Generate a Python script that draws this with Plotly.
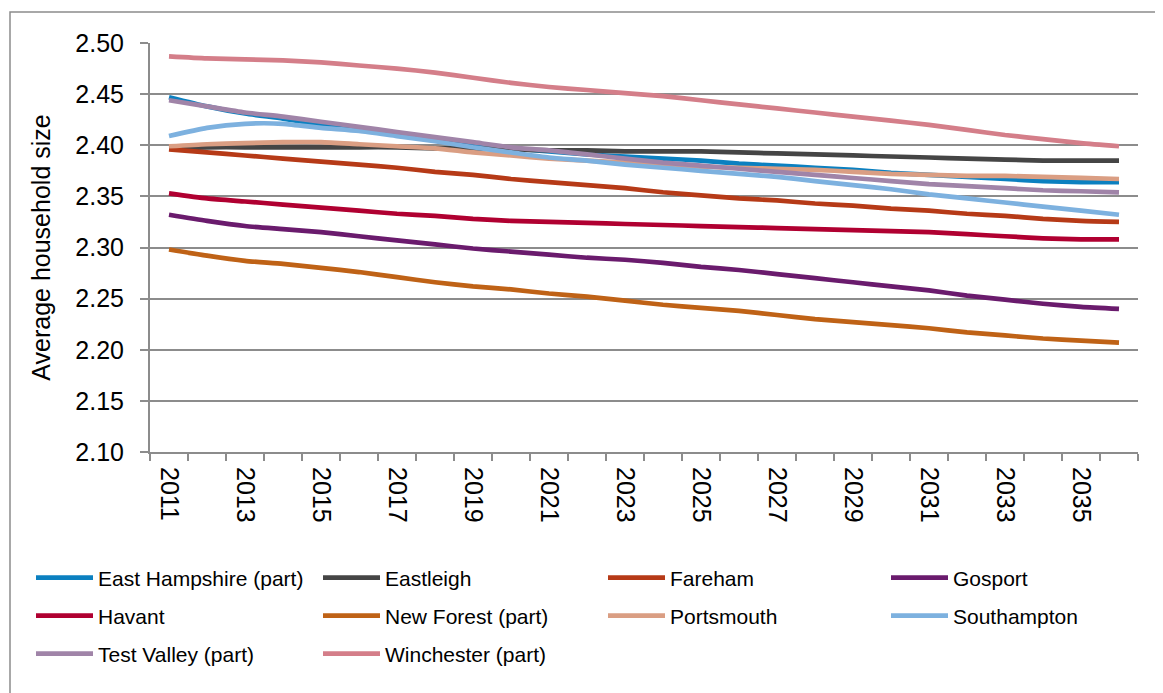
import plotly.graph_objects as go

years = list(range(2011, 2037))

east_hampshire = [2.447, 2.438, 2.431, 2.426, 2.420, 2.415, 2.410, 2.405, 2.401, 2.397, 2.394, 2.391, 2.389,
                  2.387, 2.385, 2.382, 2.380, 2.378, 2.376, 2.373, 2.371, 2.369, 2.367, 2.365, 2.364, 2.364]
eastleigh = [2.397, 2.398, 2.398, 2.398, 2.398, 2.398, 2.398, 2.397, 2.397, 2.396, 2.395, 2.395, 2.394,
             2.394, 2.394, 2.393, 2.392, 2.391, 2.390, 2.389, 2.388, 2.387, 2.386, 2.385, 2.385, 2.385]
fareham = [2.396, 2.393, 2.390, 2.387, 2.384, 2.381, 2.378, 2.374, 2.371, 2.367, 2.364, 2.361, 2.358,
           2.354, 2.351, 2.348, 2.346, 2.343, 2.341, 2.338, 2.336, 2.333, 2.331, 2.328, 2.326, 2.325]
gosport = [2.332, 2.326, 2.321, 2.318, 2.315, 2.311, 2.307, 2.303, 2.299, 2.296, 2.293, 2.290, 2.288,
           2.285, 2.281, 2.278, 2.274, 2.270, 2.266, 2.262, 2.258, 2.253, 2.249, 2.245, 2.242, 2.240]
havant = [2.353, 2.348, 2.345, 2.342, 2.339, 2.336, 2.333, 2.331, 2.328, 2.326, 2.325, 2.324, 2.323,
          2.322, 2.321, 2.320, 2.319, 2.318, 2.317, 2.316, 2.315, 2.313, 2.311, 2.309, 2.308, 2.308]
new_forest = [2.298, 2.292, 2.287, 2.284, 2.280, 2.276, 2.271, 2.266, 2.262, 2.259, 2.255, 2.252, 2.248,
              2.244, 2.241, 2.238, 2.234, 2.230, 2.227, 2.224, 2.221, 2.217, 2.214, 2.211, 2.209, 2.207]
portsmouth = [2.399, 2.401, 2.402, 2.403, 2.403, 2.401, 2.399, 2.397, 2.393, 2.390, 2.387, 2.385, 2.383,
              2.381, 2.379, 2.378, 2.377, 2.376, 2.374, 2.372, 2.371, 2.370, 2.370, 2.369, 2.368, 2.367]
southampton = [2.409, 2.417, 2.421, 2.421, 2.417, 2.414, 2.409, 2.404, 2.398, 2.393, 2.388, 2.385, 2.381,
               2.378, 2.375, 2.372, 2.369, 2.365, 2.361, 2.357, 2.352, 2.348, 2.344, 2.340, 2.336, 2.332]
test_valley = [2.444, 2.438, 2.432, 2.428, 2.423, 2.418, 2.413, 2.408, 2.403, 2.398, 2.395, 2.391, 2.387,
               2.383, 2.380, 2.377, 2.374, 2.371, 2.368, 2.365, 2.362, 2.360, 2.358, 2.356, 2.355, 2.354]
winchester = [2.487, 2.485, 2.484, 2.483, 2.481, 2.478, 2.475, 2.471, 2.466, 2.461, 2.457, 2.454, 2.451,
              2.448, 2.444, 2.440, 2.436, 2.432, 2.428, 2.424, 2.420, 2.415, 2.410, 2.406, 2.402, 2.399]

series = [
    ("East Hampshire (part)", east_hampshire, "#0B80C0"),
    ("Eastleigh", eastleigh, "#454545"),
    ("Fareham", fareham, "#B63A17"),
    ("Gosport", gosport, "#6A1B6D"),
    ("Havant", havant, "#B00031"),
    ("New Forest (part)", new_forest, "#BF6216"),
    ("Portsmouth", portsmouth, "#DA9E83"),
    ("Southampton", southampton, "#7DB1DF"),
    ("Test Valley (part)", test_valley, "#A084A8"),
    ("Winchester (part)", winchester, "#D47E89"),
]

tick_labels = [str(y) for y in range(2011, 2036, 2)]
tick_vals = list(range(2011, 2036, 2))
y_ticks = [2.10, 2.15, 2.20, 2.25, 2.30, 2.35, 2.40, 2.45, 2.50]

FONT = "Liberation Sans, Arial, sans-serif"
OFF = 8  # default page body margin
W, H = 1155, 685
ml, mr, mt, mb = 142, 25, 35, 241
pw, ph = W - ml - mr, H - mt - mb


def px(x):
    return (x - OFF - ml) / pw


def py(y):
    return (H - mb - (y - OFF)) / ph


col_x = [31, 318, 603, 886]
row_y = [578, 616, 654]

fig = go.Figure()
legend_layout = {}
for i, (name, vals, color) in enumerate(series):
    key = "legend" if i == 0 else f"legend{i + 1}"
    fig.add_trace(go.Scatter(
        x=years, y=vals, name=name, mode="lines",
        line=dict(color=color, width=4.7, shape="spline", smoothing=0.6),
        legend=key,
    ))
    legend_layout[key] = dict(
        orientation="h", xanchor="left", yanchor="middle",
        x=px(col_x[i % 4]), y=py(row_y[i // 4]),
        font=dict(family=FONT, size=21, color="black"),
        itemwidth=57, bgcolor="rgba(0,0,0,0)",
    )

fig.update_layout(
    width=W, height=H,
    margin=dict(l=ml, r=mr, t=mt, b=mb),
    paper_bgcolor="white", plot_bgcolor="white",
    font=dict(family=FONT, size=24, color="black"),
    showlegend=True,
    **legend_layout,
    xaxis=dict(
        range=[2010.5, 2036.5], tickmode="array", tickvals=tick_vals, ticktext=tick_labels,
        tickangle=90, ticks="", showgrid=False, zeroline=False,
        showline=True, linecolor="#8C8C8C", linewidth=2,
        tickfont=dict(family=FONT, size=25, color="black"),
        ticklabelstandoff=8,
        minor=dict(tick0=2010.5, dtick=1, ticks="outside", ticklen=7, tickcolor="#8C8C8C", tickwidth=1.5, showgrid=False),
    ),
    yaxis=dict(
        range=[2.10, 2.50], tickmode="array", tickvals=y_ticks, ticktext=[f"{v:.2f}" for v in y_ticks],
        ticks="outside", ticklen=8, tickcolor="#8C8C8C", tickwidth=1.5,
        showgrid=True, gridcolor="#8C8C8C", gridwidth=1.5, zeroline=False,
        showline=True, linecolor="#8C8C8C", linewidth=2,
        tickfont=dict(family=FONT, size=25, color="black"),
        ticklabelstandoff=11,
        title=dict(text="Average household size", font=dict(family=FONT, size=25, color="black"), standoff=18),
    ),
    shapes=[dict(type="rect", xref="paper", yref="paper",
                 x0=px(10), x1=px(1200), y0=py(730), y1=py(12),
                 line=dict(color="#8C8C8C", width=1.5), fillcolor="rgba(0,0,0,0)", layer="below")],
)

fig.write_html("out.html")
